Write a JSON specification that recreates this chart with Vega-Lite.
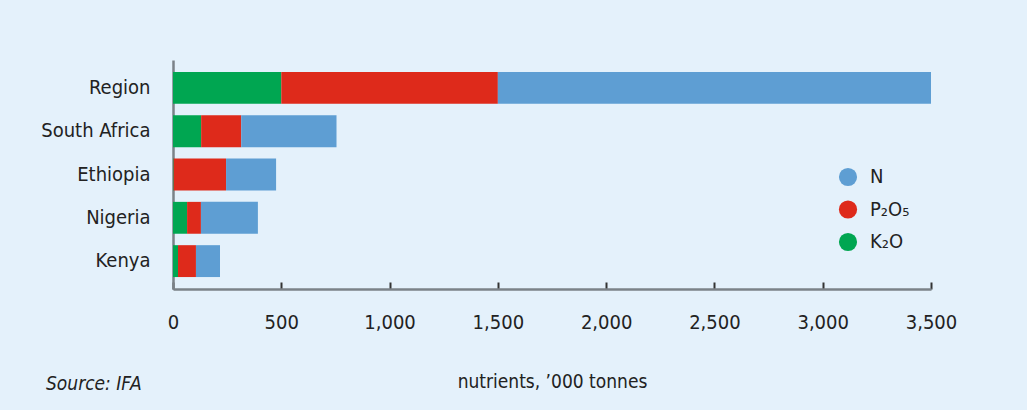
{
  "$schema": "https://vega.github.io/schema/vega-lite/v6.json",
  "width": 758,
  "height": 229,
  "autosize": "none",
  "padding": {"left": 173, "top": 60, "right": 96, "bottom": 121},
  "background": "#e4f1fb",
  "title": {
    "text": "Source: IFA",
    "orient": "bottom",
    "anchor": "start",
    "frame": "group",
    "dx": -127,
    "offset": -16,
    "font": "Liberation Sans Narrow, DejaVu Sans Condensed, Roboto Condensed, Roboto, sans-serif",
    "fontSize": 19,
    "fontStyle": "italic",
    "fontWeight": "normal",
    "color": "#222222"
  },
  "data": {
    "values": [
      {"country": "Region", "nutrient": "K₂O", "rank": 1, "value": 500},
      {"country": "Region", "nutrient": "P₂O₅", "rank": 2, "value": 1000},
      {"country": "Region", "nutrient": "N", "rank": 3, "value": 2000},
      {"country": "South Africa", "nutrient": "K₂O", "rank": 1, "value": 130},
      {"country": "South Africa", "nutrient": "P₂O₅", "rank": 2, "value": 185},
      {"country": "South Africa", "nutrient": "N", "rank": 3, "value": 440},
      {"country": "Ethiopia", "nutrient": "K₂O", "rank": 1, "value": 3},
      {"country": "Ethiopia", "nutrient": "P₂O₅", "rank": 2, "value": 242},
      {"country": "Ethiopia", "nutrient": "N", "rank": 3, "value": 231},
      {"country": "Nigeria", "nutrient": "K₂O", "rank": 1, "value": 65},
      {"country": "Nigeria", "nutrient": "P₂O₅", "rank": 2, "value": 64},
      {"country": "Nigeria", "nutrient": "N", "rank": 3, "value": 263},
      {"country": "Kenya", "nutrient": "K₂O", "rank": 1, "value": 23},
      {"country": "Kenya", "nutrient": "P₂O₅", "rank": 2, "value": 83},
      {"country": "Kenya", "nutrient": "N", "rank": 3, "value": 111}
    ]
  },
  "mark": {"type": "bar"},
  "encoding": {
    "y": {
      "field": "country",
      "type": "nominal",
      "sort": ["Region", "South Africa", "Ethiopia", "Nigeria", "Kenya"],
      "scale": {"paddingInner": 0.264, "paddingOuter": 0.276},
      "axis": {
        "title": null,
        "ticks": false,
        "labelPadding": 23,
        "labelFontSize": 20,
        "domainWidth": 2.5
      }
    },
    "x": {
      "field": "value",
      "type": "quantitative",
      "stack": "zero",
      "scale": {"domain": [0, 3500], "nice": false},
      "axis": {
        "title": "nutrients, ’000 tonnes",
        "values": [0, 500, 1000, 1500, 2000, 2500, 3000, 3500],
        "format": ",d",
        "tickSize": -7,
        "tickWidth": 2,
        "tickColor": "#333333",
        "labelFlush": false,
        "labelPadding": 30,
        "labelFontSize": 20,
        "titlePadding": 40,
        "titleFontSize": 19,
        "domainWidth": 2.5,
        "grid": false
      }
    },
    "color": {
      "field": "nutrient",
      "type": "nominal",
      "scale": {
        "domain": ["N", "P₂O₅", "K₂O"],
        "range": ["#5e9ed3", "#de2a1b", "#00a651"]
      },
      "legend": {
        "title": null,
        "orient": "none",
        "legendX": 665,
        "legendY": 107,
        "symbolType": "circle",
        "symbolSize": 330,
        "symbolStrokeWidth": 0,
        "labelFontSize": 20,
        "labelOffset": 12,
        "rowPadding": 12.5,
        "labelFont": "Liberation Sans Narrow, DejaVu Sans Condensed, Roboto Condensed, Roboto, sans-serif",
        "labelColor": "#222222"
      }
    },
    "order": {"field": "rank", "type": "quantitative"}
  },
  "config": {
    "view": {"stroke": null},
    "font": "Liberation Sans Narrow, DejaVu Sans Condensed, Roboto Condensed, Roboto, sans-serif",
    "axis": {
      "labelFont": "Liberation Sans Narrow, DejaVu Sans Condensed, Roboto Condensed, Roboto, sans-serif",
      "titleFont": "Liberation Sans Narrow, DejaVu Sans Condensed, Roboto Condensed, Roboto, sans-serif",
      "labelColor": "#222222",
      "titleColor": "#222222",
      "titleFontWeight": "normal",
      "domainColor": "#7b8288"
    }
  }
}
